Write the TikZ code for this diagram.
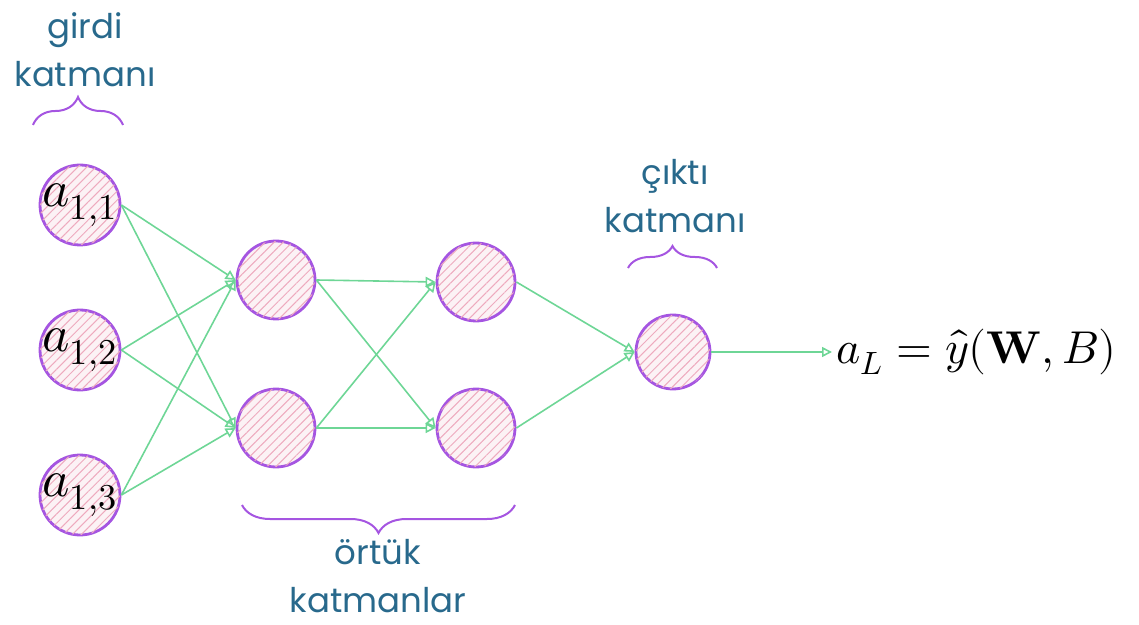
\documentclass[tikz,border=0pt]{standalone}
\usepackage{fontspec}
\setmainfont{Poppins}
\usepackage{unicode-math}
\setmathfont{Latin Modern Math}
\usetikzlibrary{arrows.meta,patterns.meta,decorations.pathreplacing,calc}
\definecolor{edgegreen}{RGB}{110,214,150}
\definecolor{nodepurple}{RGB}{165,85,225}
\definecolor{hatchpink}{RGB}{238,170,190}
\definecolor{txtblue}{RGB}{40,105,140}
\tikzset{
  neuron/.style={circle, draw=nodepurple, line width=1.4pt, minimum size=#1,
    inner sep=0pt, fill=hatchpink!15,
    postaction={pattern={Lines[angle=45,distance=3.2pt,line width=0.5pt]}, pattern color=hatchpink}},
  neuron/.default=76pt,
  conn/.style={draw=edgegreen, line width=0.8pt, -{Triangle[open,length=5pt,width=5pt]}},
  hbrace/.style={draw=nodepurple, line width=1pt, decorate,
    decoration={brace, amplitude=#1}},
  lbl/.style={text=txtblue, font=\fontsize{17}{24}\selectfont, align=center},
  mlbl/.style={font=\fontsize{26}{30}\selectfont},
  olbl/.style={font=\fontsize{23}{28}\selectfont}
}
\begin{document}
\begin{tikzpicture}[x=0.5pt,y=-0.5pt]
\useasboundingbox (0,0) rectangle (1139,625);
% input layer
\node[neuron=40pt] (a1) at (80,205) {};
\node[neuron=40pt] (a2) at (80,350) {};
\node[neuron=40pt] (a3) at (80,495) {};
\node[mlbl] at (a1) {$a_{1,1}$};
\node[mlbl] at (a2) {$a_{1,2}$};
\node[mlbl] at (a3) {$a_{1,3}$};
% hidden layers
\node[neuron=39pt] (h1) at (276,280) {};
\node[neuron=39pt] (h2) at (276,428) {};
\node[neuron=39pt] (g1) at (476,282) {};
\node[neuron=39pt] (g2) at (476,428) {};
% output
\node[neuron=37pt] (o) at (673,352) {};
\node[olbl, anchor=west, inner sep=2pt] (y) at (832,352) {$a_L = \hat{y}(\symbf{W}, B)$};
% connections
\foreach \s in {a1,a2,a3}{
  \foreach \t in {h1,h2}{
    \draw[conn] (\s.east) -- (\t.west);
  }
}
\foreach \s in {h1,h2}{
  \foreach \t in {g1,g2}{
    \draw[conn] (\s.east) -- (\t.west);
  }
}
\foreach \s in {g1,g2}{
  \draw[conn] (\s.east) -- (o.west);
}
\draw[conn] (o.east) -- (y.west);
% braces
\coordinate (b1l) at (33,125);
\coordinate (b1r) at (123,125);
\draw[hbrace=14pt] (b1l) -- (b1r);
\coordinate (b2l) at (628,268);
\coordinate (b2r) at (717,268);
\draw[hbrace=11pt] (b2l) -- (b2r);
\coordinate (b3l) at (242,505);
\coordinate (b3r) at (515,505);
\draw[hbrace=14pt] (b3r) -- (b3l);
% labels
\node[lbl] (t1) at (85,50) {girdi\\katmanı};
\node[lbl] (t2) at (675,196) {çıktı\\katmanı};
\node[lbl] (t3) at (378,576) {örtük\\katmanlar};
\end{tikzpicture}
\end{document}
